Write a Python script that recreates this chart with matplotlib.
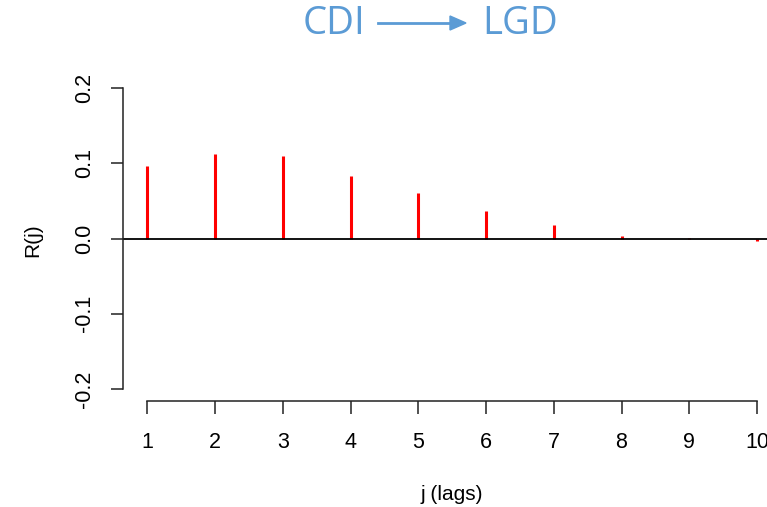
import numpy as np
import matplotlib.pyplot as plt

lags = [1, 2, 3, 4, 5, 6, 7, 8, 9, 10]
r_vals = [0.096, 0.112, 0.109, 0.083, 0.060, 0.036, 0.018, 0.003, 0.0005, -0.003]
y_ticks = [-0.2, -0.1, 0.0, 0.1, 0.2]
y_labels = ['-0.2', '-0.1', '0.0', '0.1', '0.2']

plt.rcParams['font.family'] = ['Liberation Sans', 'DejaVu Sans']

fig = plt.figure(figsize = (7.67, 5.07), dpi = 100)
W, H = 767, 507
ax = fig.add_axes([123 / W, (H - 401) / H, (781.4 - 123) / W, (401 - 76) / H])

ax.vlines(lags, 0, r_vals, color = 'red', lw = 2.2)
ax.axhline(0, color = 'black', lw = 1.3)

ax.set_xlim(0.64, 10.36)
ax.set_ylim(-0.216, 0.216)
ax.set_xticks(lags)
ax.set_yticks(y_ticks)
ax.set_yticklabels(y_labels, rotation = 90, va = 'center')

for s in ['top', 'right']:
    ax.spines[s].set_visible(False)
ax.spines['left'].set_bounds(-0.2, 0.2)
ax.spines['bottom'].set_bounds(1, 10)
for s in ['left', 'bottom']:
    ax.spines[s].set_linewidth(1.1)
    ax.spines[s].set_color('#222222')
ax.tick_params(axis = 'both', length = 9, width = 1.1, color = '#222222', labelsize = 15.5)
ax.tick_params(axis = 'x', pad = 13)
ax.tick_params(axis = 'y', pad = 11)

fig.text(452 / W, 1 - 495 / H, 'j (lags)', ha = 'center', va = 'center', fontsize = 15)
fig.text(33 / W, 1 - 240 / H, 'R(j)', ha = 'center', va = 'center', fontsize = 15, rotation = 90)

# title with arrow
blue = '#5B9BD5'
fig.text(365 / W, 1 - 24 / H, 'CDI', ha = 'right', va = 'center', fontsize = 27.5,
         color = blue, family = ['Open Sans', 'DejaVu Sans'])
fig.text(482 / W, 1 - 24 / H, 'LGD', ha = 'left', va = 'center', fontsize = 27.5,
         color = blue, family = ['Open Sans', 'DejaVu Sans'])
fig.add_artist(plt.Line2D([378 / W, 455 / W], [1 - 23 / H, 1 - 23 / H], color = blue, lw = 2))
fig.add_artist(plt.Polygon([[450 / W, 1 - 16 / H], [466 / W, 1 - 23 / H], [450 / W, 1 - 30 / H]],
                           closed = True, color = blue, transform = fig.transFigure))

plt.savefig('out.png', dpi = 100)
